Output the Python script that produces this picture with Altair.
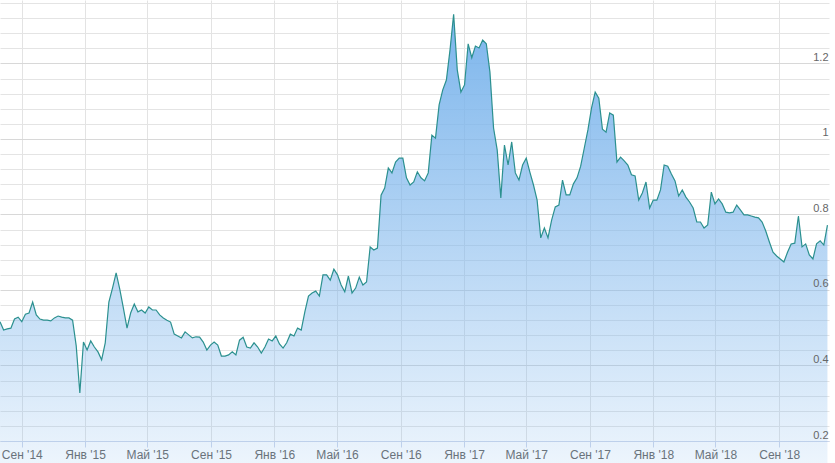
import json
import altair as alt
import pandas as pd

# ---- data (weekly readings) ----
start_date = "2014-07-21"
domain_start = (2014, 7, 21)
domain_end = (2018, 12, 6)

values = [
    0.516, 0.494, 0.497, 0.499, 0.523, 0.528, 0.516, 0.536, 0.539, 0.568,
    0.534, 0.523, 0.520, 0.520, 0.518, 0.526, 0.531, 0.528, 0.526, 0.526,
    0.520, 0.452, 0.327, 0.462, 0.441, 0.465, 0.449, 0.436, 0.415, 0.460,
    0.568, 0.605, 0.645, 0.602, 0.552, 0.499, 0.539, 0.563, 0.542, 0.547,
    0.539, 0.555, 0.547, 0.547, 0.534, 0.526, 0.520, 0.515, 0.483, 0.478,
    0.473, 0.489, 0.481, 0.473, 0.476, 0.475, 0.462, 0.441, 0.454, 0.462,
    0.454, 0.425, 0.425, 0.428, 0.436, 0.428, 0.467, 0.475, 0.449, 0.446,
    0.460, 0.449, 0.433, 0.449, 0.470, 0.465, 0.478, 0.457, 0.446, 0.460,
    0.483, 0.478, 0.499, 0.494, 0.542, 0.584, 0.592, 0.597, 0.584, 0.640,
    0.640, 0.626, 0.655, 0.640, 0.613, 0.595, 0.637, 0.592, 0.605, 0.634,
    0.613, 0.621, 0.714, 0.706, 0.711, 0.851, 0.870, 0.923, 0.910, 0.939,
    0.949, 0.949, 0.897, 0.878, 0.886, 0.913, 0.897, 0.889, 0.910, 1.010,
    1.002, 1.090, 1.130, 1.156, 1.236, 1.330, 1.183, 1.124, 1.143, 1.252,
    1.215, 1.246, 1.241, 1.262, 1.252, 1.177, 1.029, 0.971, 0.844, 0.984,
    0.931, 0.992, 0.910, 0.891, 0.931, 0.949, 0.912, 0.878, 0.838, 0.738,
    0.764, 0.738, 0.785, 0.820, 0.825, 0.891, 0.852, 0.852, 0.881, 0.897,
    0.928, 0.976, 1.024, 1.082, 1.124, 1.108, 1.026, 1.018, 1.069, 1.063,
    0.939, 0.952, 0.942, 0.931, 0.905, 0.902, 0.838, 0.857, 0.886, 0.817,
    0.838, 0.838, 0.865, 0.931, 0.928, 0.907, 0.889, 0.849, 0.865, 0.846,
    0.833, 0.817, 0.780, 0.780, 0.764, 0.772, 0.859, 0.828, 0.841, 0.828,
    0.806, 0.804, 0.806, 0.825, 0.812, 0.799, 0.799, 0.796, 0.793, 0.791,
    0.780, 0.756, 0.727, 0.700, 0.690, 0.682, 0.674, 0.700, 0.722, 0.724,
    0.796, 0.714, 0.722, 0.693, 0.682, 0.722, 0.730, 0.719, 0.772,
]

month_names = ["Янв", "Фев", "Мар", "Апр", "Май", "Июн",
               "Июл", "Авг", "Сен", "Окт", "Ноя", "Дек"]
x_tick_months = [(2014, 9), (2015, 1), (2015, 5), (2015, 9), (2016, 1),
                 (2016, 5), (2016, 9), (2017, 1), (2017, 5), (2017, 9),
                 (2018, 1), (2018, 5), (2018, 9)]
y_minor_values = [0.24, 0.28, 0.32, 0.36, 0.44, 0.48, 0.52, 0.56,
                  0.64, 0.68, 0.72, 0.76, 0.84, 0.88, 0.92, 0.96,
                  1.04, 1.08, 1.12, 1.16, 1.24, 1.28, 1.32, 1.36]
y_label_values = [0.2, 0.4, 0.6, 0.8, 1.0, 1.2]
y_domain = [0.2, 1.368]

dates = pd.date_range(start_date, periods=len(values), freq="7D").strftime("%Y-%m-%d").tolist()
df = pd.DataFrame({"date": dates, "value": values})

FONT = "Liberation Sans"
LINE_COLOR = "#2b908f"

month_js = json.dumps(month_names, ensure_ascii=False)
x_label_expr = month_js + "[utcmonth(datum.value)] + \" '\" + utcFormat(datum.value, '%y')"

x_scale = alt.Scale(
    type="utc",
    domain=[alt.DateTime(year=domain_start[0], month=domain_start[1], date=domain_start[2], utc=True),
            alt.DateTime(year=domain_end[0], month=domain_end[1], date=domain_end[2], utc=True)],
)
x_axis = alt.Axis(
    values=[alt.DateTime(year=y, month=m, date=1, utc=True) for y, m in x_tick_months],
    labelExpr=x_label_expr,
    title=None,
    grid=True,
    gridColor="#e3e3e3",
    domainColor="#ccd6eb",
    tickColor="#ccd6eb",
    tickSize=6,
    labelFont=FONT,
    labelFontSize=12,
    labelColor="#666666",
    labelPadding=2,
    labelFlush=False,
    labelOverlap=False,
)
y_scale = alt.Scale(domain=y_domain, zero=False, nice=False)

# layer 1: minor horizontal grid (behind everything)
minor = alt.Chart(df).mark_line(strokeOpacity=0).encode(
    x=alt.X("date:T", scale=x_scale, axis=x_axis),
    y=alt.Y("value:Q", scale=y_scale,
            axis=alt.Axis(orient="right", values=y_minor_values, labels=False, ticks=False,
                          domain=False, title=None, grid=True, gridColor="#e4e4e4", zindex=0)),
)

# layer 2: gradient area with major grid
area = alt.Chart(df).mark_area(
    fill=alt.Gradient(
        gradient="linear",
        stops=[alt.GradientStop(color="rgba(124,181,236,1)", offset=0),
               alt.GradientStop(color="rgba(124,181,236,0.04)", offset=1)],
        x1=0, x2=0, y1=0, y2=1,
    ),
).encode(
    x=alt.X("date:T", scale=x_scale, axis=x_axis),
    y=alt.Y("value:Q", scale=y_scale,
            axis=alt.Axis(orient="right", values=y_label_values, labels=False, ticks=False,
                          domain=False, title=None, grid=True, gridColor="#d8d8d8", zindex=0)),
)

# layer 3: the line with the labelled axis on top
line = alt.Chart(df).mark_line(color=LINE_COLOR, strokeWidth=1.2).encode(
    x=alt.X("date:T", scale=x_scale, axis=x_axis),
    y=alt.Y(
        "value:Q",
        scale=y_scale,
        axis=alt.Axis(
            orient="right",
            values=y_label_values,
            format="~g",
            grid=False,
            ticks=False,
            tickSize=0,
            domain=False,
            title=None,
            labelAlign="right",
            labelPadding=-1,
            labelBaseline="alphabetic",
            labelOffset=-3,
            labelFont=FONT,
            labelFontSize=11,
            labelColor="#666666",
            labelOverlap=False,
            zindex=1,
        ),
    ),
)

chart = alt.layer(minor, area, line).resolve_axis(y="independent").properties(
    width=829,
    height=441,
    padding={"left": 0, "top": 0, "right": 6, "bottom": 22},
    autosize=alt.AutoSizeParams(type="none"),
    background="white",
).configure_view(stroke=None)

chart.save("out.html", embed_options={"renderer": "svg", "actions": False})
